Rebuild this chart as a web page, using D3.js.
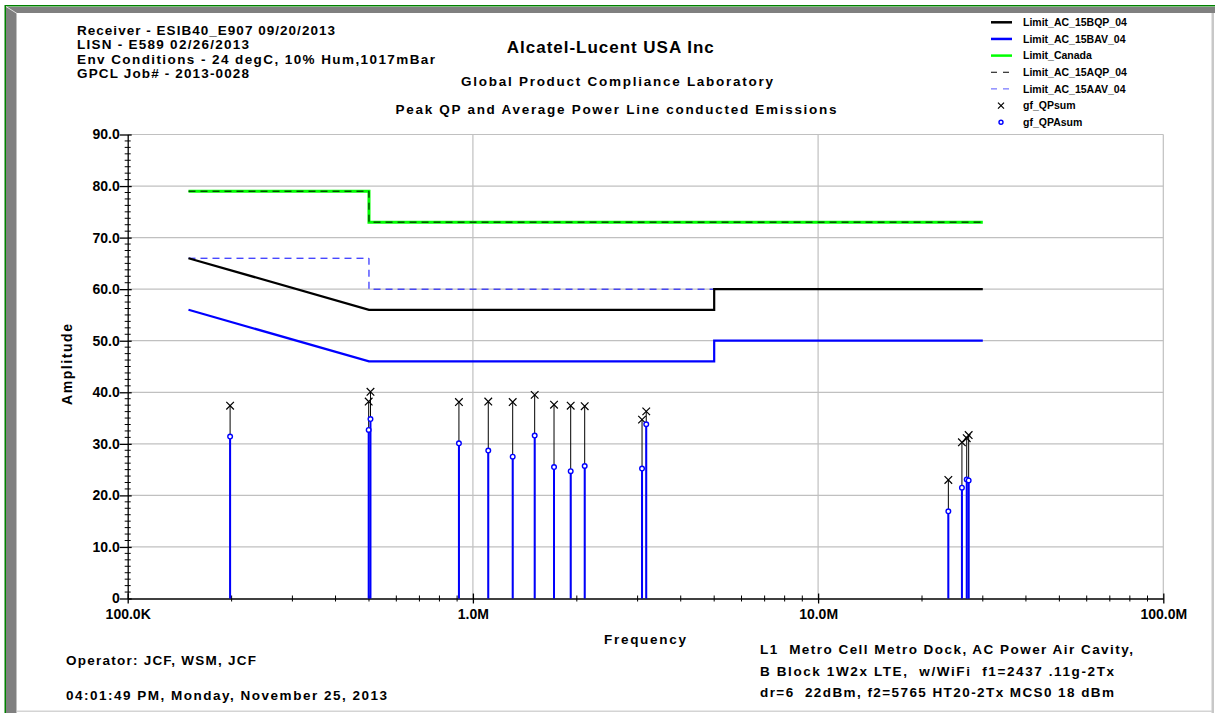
<!DOCTYPE html>
<html>
<head>
<meta charset="utf-8">
<script src="https://cdn.jsdelivr.net/npm/d3@7"></script>
<style>
  html, body { margin: 0; padding: 0; background: #fff; }
  svg { display: block; font-family: "Liberation Sans", Arial, sans-serif; font-weight: bold; }
  text { white-space: pre; }
</style>
</head>
<body>
<svg id="chart" width="1215" height="713"></svg>
<script>
// Measured emissions: frequency (MHz), quasi-peak and average levels (dBuV)
const freqMHz = [0.198, 0.499, 0.505, 0.911, 1.108, 1.304, 1.51, 1.718, 1.92, 2.108, 3.09, 3.178, 23.84, 26.1, 26.95, 27.3];
const qpLevels = [37.4, 38.2, 40.1, 38.1, 38.2, 38.1, 39.5, 37.6, 37.4, 37.3, 34.7, 36.3, 23.0, 30.3, 31.1, 31.7];
const avLevels = [31.4, 32.7, 34.8, 30.1, 28.7, 27.5, 31.6, 25.5, 24.7, 25.7, 25.2, 33.8, 16.9, 21.5, 23.1, 22.9];

// Limit lines (frequency MHz / level)
const limitBQPFreq = [0.15, 0.5, 5, 5, 30];
const limitBQPLevel = [66, 56, 56, 60, 60];
const limitBAVFreq = [0.15, 0.5, 5, 5, 30];
const limitBAVLevel = [56, 46, 46, 50, 50];
const limitCanadaFreq = [0.15, 0.5, 0.5, 30];
const limitCanadaLevel = [79, 79, 73, 73];
const limitAQPFreq = [0.15, 0.5, 0.5, 30];
const limitAQPLevel = [79, 79, 73, 73];
const limitAAVFreq = [0.15, 0.5, 0.5, 30];
const limitAAVLevel = [66, 66, 60, 60];

// Axis ticks
const yTickValues = [0, 10, 20, 30, 40, 50, 60, 70, 80, 90];
const yTickLabels = ["0", "10.0", "20.0", "30.0", "40.0", "50.0", "60.0", "70.0", "80.0", "90.0"];
const xTickValues = [0.1, 1, 10, 100];
const xTickLabels = ["100.0K", "1.0M", "10.0M", "100.0M"];

const legendNames = ["Limit_AC_15BQP_04", "Limit_AC_15BAV_04", "Limit_Canada", "Limit_AC_15AQP_04", "Limit_AC_15AAV_04", "gf_QPsum", "gf_QPAsum"];

const headerLines = ["Receiver - ESIB40_E907 09/20/2013", "LISN - E589 02/26/2013", "Env Conditions - 24 degC, 10% Hum,1017mBar", "GPCL Job# - 2013-0028"];
const headerWidths = [258, 172, 358, 172];
const descLines = ["L1  Metro Cell Metro Dock, AC Power Air Cavity,", "B Block 1W2x LTE,  w/WiFi  f1=2437 .11g-2Tx", "dr=6  22dBm, f2=5765 HT20-2Tx MCS0 18 dBm"];
const descWidths = [373, 354, 354];

const svg = d3.select("#chart");

// ---- window frame ----
svg.append("rect").attr("x", 0).attr("y", 0).attr("width", 1215).attr("height", 713).attr("fill", "#fff");
svg.append("rect").attr("x", 5).attr("y", 5).attr("width", 1210).attr("height", 1.5).attr("fill", "#008000");
svg.append("rect").attr("x", 4.5).attr("y", 5).attr("width", 1.5).attr("height", 708).attr("fill", "#008000");
svg.append("rect").attr("x", 6).attr("y", 7).attr("width", 1209).attr("height", 6).attr("fill", "#808080");
svg.append("rect").attr("x", 6).attr("y", 7).attr("width", 10.5).attr("height", 706).attr("fill", "#808080");
svg.append("line").attr("x1", 6).attr("y1", 6.5).attr("x2", 17).attr("y2", 13.5).attr("stroke", "#e0e0e0").attr("stroke-width", 1);
svg.append("rect").attr("x", 1211.5).attr("y", 13).attr("width", 2.5).attr("height", 700).attr("fill", "#c8c8c8");
svg.append("rect").attr("x", 17).attr("y", 710.5).attr("width", 1195).attr("height", 1.5).attr("fill", "#d4d4d4");

// ---- scales ----
const x = d3.scaleLog().domain([0.1, 100]).range([127.7, 1163.3]);
const y = d3.scaleLinear().domain([0, 90]).range([598.5, 134.5]);

const plot = svg.append("g");

// grid
plot.selectAll("line.hgrid").data(yTickValues.filter(v => v > 0)).enter().append("line")
  .attr("x1", x(0.1)).attr("x2", x(100))
  .attr("y1", d => y(d)).attr("y2", d => y(d))
  .attr("stroke", "#c0c0c0").attr("stroke-width", 1.2);
plot.selectAll("line.vgrid").data(xTickValues.filter(v => v > 0.1)).enter().append("line")
  .attr("x1", d => x(d)).attr("x2", d => x(d))
  .attr("y1", y(0)).attr("y2", y(90))
  .attr("stroke", "#c0c0c0").attr("stroke-width", 1.2);

// y axis
const yAxis = d3.axisLeft(y).tickValues(yTickValues)
  .tickFormat((d, i) => yTickLabels[i]).tickSizeInner(8).tickSizeOuter(0).tickPadding(0);
const gy = plot.append("g").attr("transform", `translate(${x(0.1)},0)`).call(yAxis);
gy.select(".domain").attr("stroke", "#000").attr("stroke-width", 1.3);
gy.selectAll(".tick line").attr("stroke", "#000").attr("stroke-width", 1.3).attr("x2", -8).attr("x1", 4);
gy.selectAll(".tick text").attr("font-size", 14).attr("font-weight", "bold")
  .attr("font-family", "'Liberation Sans', Arial, sans-serif").attr("fill", "#000");

// y minor ticks every 1.25
const yMinor = d3.range(0, 90, 1.25).filter(v => v % 10 !== 0);
plot.selectAll("line.yminor").data(yMinor).enter().append("line")
  .attr("x1", x(0.1) - 3).attr("x2", x(0.1) + 3)
  .attr("y1", d => y(d)).attr("y2", d => y(d))
  .attr("stroke", "#000").attr("stroke-width", 1);

// x axis
const xAxis = d3.axisBottom(x).tickValues(xTickValues)
  .tickFormat((d, i) => xTickLabels[i]).tickSizeInner(5).tickSizeOuter(0).tickPadding(6);
const gx = plot.append("g").attr("transform", `translate(0,${y(0)})`).call(xAxis);
gx.select(".domain").attr("stroke", "#000").attr("stroke-width", 1.3);
gx.selectAll(".tick line").attr("stroke", "#000").attr("stroke-width", 1.3).attr("y1", -5);
gx.selectAll(".tick text").attr("font-size", 14).attr("font-weight", "bold")
  .attr("font-family", "'Liberation Sans', Arial, sans-serif").attr("fill", "#000");

// x minor ticks (2..9 per decade)
const xMinor = [];
[0.1, 1, 10].forEach(dec => { for (let k = 2; k <= 9; k++) xMinor.push(dec * k); });
plot.selectAll("line.xminor").data(xMinor).enter().append("line")
  .attr("x1", d => x(d)).attr("x2", d => x(d))
  .attr("y1", y(0) - 3).attr("y2", y(0) + 3)
  .attr("stroke", "#000").attr("stroke-width", 1);

// ---- limit lines ----
const lineGen = d3.line().x(d => x(d[0])).y(d => y(d[1]));
const zip = (f, v) => f.map((d, i) => [d, v[i]]);
const limits = [
  { f: limitCanadaFreq, v: limitCanadaLevel, color: "#00ff00", w: 3, dash: null },
  { f: limitAQPFreq, v: limitAQPLevel, color: "#000", w: 1, dash: "7,5" },
  { f: limitAAVFreq, v: limitAAVLevel, color: "#0000ff", w: 1, dash: "7,5" },
  { f: limitBQPFreq, v: limitBQPLevel, color: "#000", w: 2.2, dash: null },
  { f: limitBAVFreq, v: limitBAVLevel, color: "#0000ff", w: 2.2, dash: null }
];
limits.forEach(l => {
  plot.append("path").datum(zip(l.f, l.v)).attr("d", lineGen)
    .attr("fill", "none").attr("stroke", l.color).attr("stroke-width", l.w)
    .attr("stroke-dasharray", l.dash);
});

// ---- measurement stems and markers ----
const pts = freqMHz.map((f, i) => ({ f, qp: qpLevels[i], av: avLevels[i] }));
plot.selectAll("line.qpstem").data(pts).enter().append("line")
  .attr("x1", d => x(d.f)).attr("x2", d => x(d.f))
  .attr("y1", y(0)).attr("y2", d => y(d.qp))
  .attr("stroke", "#000").attr("stroke-width", 1);
plot.selectAll("line.avstem").data(pts).enter().append("line")
  .attr("x1", d => x(d.f)).attr("x2", d => x(d.f))
  .attr("y1", y(0)).attr("y2", d => y(d.av))
  .attr("stroke", "#0000ff").attr("stroke-width", 2);

const cross = (g, cx, cy, s) => {
  g.append("path").attr("d", `M${cx - s},${cy - s}L${cx + s},${cy + s}M${cx - s},${cy + s}L${cx + s},${cy - s}`)
    .attr("stroke", "#000").attr("stroke-width", 1.2).attr("fill", "none");
};
pts.forEach(d => cross(plot, x(d.f), y(d.qp), 3.8));
plot.selectAll("circle.av").data(pts).enter().append("circle")
  .attr("cx", d => x(d.f)).attr("cy", d => y(d.av)).attr("r", 2.3)
  .attr("fill", "#fff").attr("stroke", "#0000ff").attr("stroke-width", 1.4);

// ---- titles ----
const txt = (xp, yp, s, size, anchor, len) => {
  const t = svg.append("text").attr("x", xp).attr("y", yp)
    .attr("font-size", size).attr("text-anchor", anchor || "start").attr("fill", "#000").text(s);
  if (len) t.attr("textLength", len).attr("lengthAdjust", "spacing");
  return t;
};

headerLines.forEach((s, i) => txt(77, 34.5 + i * 14.5, s, 13.5, "start", headerWidths[i]));
txt(610.3, 53, "Alcatel-Lucent USA Inc", 17, "middle", 207);
txt(617, 86, "Global Product Compliance Laboratory", 13.5, "middle", 312);
txt(616, 113.5, "Peak QP and Average Power Line conducted Emissions", 13.5, "middle", 441);

// axis titles
svg.append("text").attr("transform", `translate(72,364.5) rotate(-90)`).attr("text-anchor", "middle")
  .attr("font-size", 14).attr("textLength", 81).attr("lengthAdjust", "spacing").text("Amplitude");
txt(645, 644, "Frequency", 13.5, "middle", 82);

// footer
txt(66, 665, "Operator: JCF, WSM, JCF", 13.5, "start", 190);
txt(66, 700, "04:01:49 PM, Monday, November 25, 2013", 13.5, "start", 321);
descLines.forEach((s, i) => txt(760, 654 + i * 21.5, s, 13.5, "start", descWidths[i]));

// ---- legend ----
const lg = svg.append("g");
const rowY = i => 22.3 + i * 16.65;
const legendStyles = [
  { type: "line", color: "#000", w: 2.5, dash: null },
  { type: "line", color: "#0000ff", w: 2.5, dash: null },
  { type: "line", color: "#00ff00", w: 2.5, dash: null },
  { type: "line", color: "#000", w: 1, dash: "6,6" },
  { type: "line", color: "#5555ff", w: 1, dash: "6,6" },
  { type: "cross" },
  { type: "circle" }
];
legendNames.forEach((name, i) => {
  const ly = rowY(i);
  const st = legendStyles[i];
  if (st.type === "line") {
    lg.append("line").attr("x1", 991).attr("x2", 1012).attr("y1", ly).attr("y2", ly)
      .attr("stroke", st.color).attr("stroke-width", st.w).attr("stroke-dasharray", st.dash);
  } else if (st.type === "cross") {
    cross(lg, 1001, ly, 3);
  } else {
    lg.append("circle").attr("cx", 1001).attr("cy", ly).attr("r", 2)
      .attr("fill", "#fff").attr("stroke", "#0000ff").attr("stroke-width", 1.4);
  }
  lg.append("text").attr("x", 1023).attr("y", ly + 3.8).attr("font-size", 10.5).text(name);
});
</script>
</body>
</html>
